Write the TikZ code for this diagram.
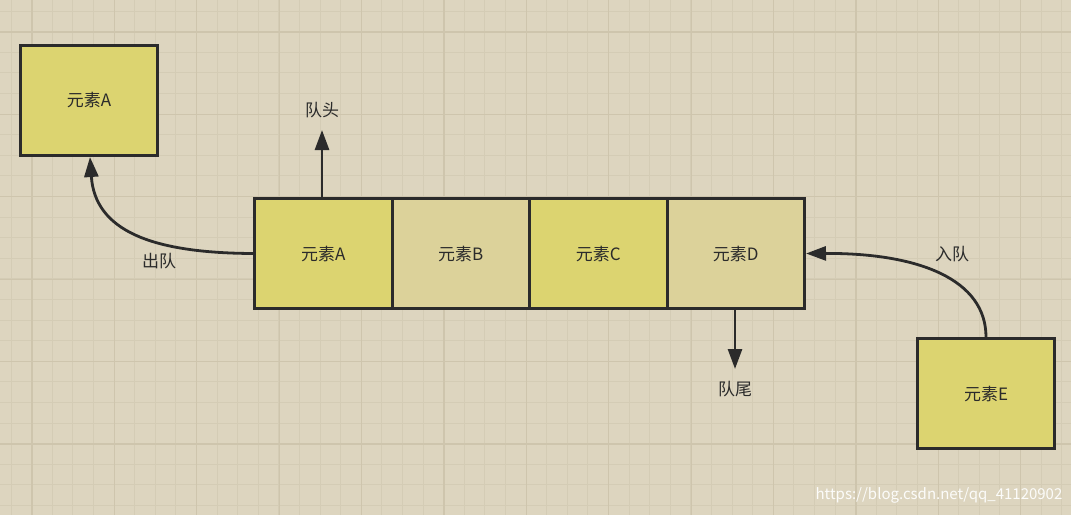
\documentclass[tikz,border=0pt]{standalone}
\usepackage{fontspec}
\setmainfont{Noto Sans CJK SC}
\usetikzlibrary{arrows.meta}
\definecolor{bg}{HTML}{DDD5BF}
\definecolor{gridc}{HTML}{D4CCB5}
\definecolor{majc}{HTML}{CEC5AD}
\definecolor{yel}{HTML}{DCD470}
\definecolor{lyel}{HTML}{DCD29A}
\definecolor{ink}{HTML}{2B2B2B}
\tikzset{
 box/.style={draw=ink,line width=3pt,minimum width=137pt,minimum height=110pt,inner sep=0pt,font=\fontsize{17}{20}\selectfont,text=ink},
 lbl/.style={font=\fontsize{17}{20}\selectfont,text=ink},
 conn/.style={draw=ink,line width=2.8pt,-{Triangle[length=20pt,width=14pt]}},
}
\begin{document}
\begin{tikzpicture}[x=1pt,y=-1pt]
\fill[bg] (0,0) rectangle (1071,515);
\useasboundingbox (0,0) rectangle (1071,515);
\foreach \i in {0,...,52} {\draw[gridc,line width=1pt] (11+20.6*\i,0) -- (11+20.6*\i,515);}
\foreach \i in {0,...,25} {\draw[gridc,line width=1pt] (0,11+20.6*\i) -- (1071,11+20.6*\i);}
\foreach \i in {0,...,13} {\draw[majc,line width=1.3pt] (32+82.4*\i,0) -- (32+82.4*\i,515);}
\foreach \i in {0,...,6} {\draw[majc,line width=1.3pt] (0,32+82.4*\i) -- (1071,32+82.4*\i);}
\node[box,fill=yel,anchor=north west] (ea) at (19,44) {元素A};
\node[box,fill=yel,anchor=north west,minimum width=137.5pt] (qa) at (253,197) {元素A};
\node[box,fill=lyel,anchor=north west,minimum width=137.5pt] (qb) at (390.5,197) {元素B};
\node[box,fill=yel,anchor=north west,minimum width=137.5pt] (qc) at (528,197) {元素C};
\node[box,fill=lyel,anchor=north west,minimum width=137.5pt] (qd) at (665.5,197) {元素D};
\node[box,fill=yel,anchor=north west] (ee) at (916,337) {元素E};
\node[lbl] (head) at (322,110) {队头};
\node[lbl] (tail) at (735,389) {队尾};
\node[lbl] (out) at (159,261) {出队};
\node[lbl] (in) at (952,254) {入队};
\node[font=\fontsize{15}{18}\selectfont,text=white!92!bg] (wm) at (939,495) {https://blog.csdn.net/qq\_41120902};
\coordinate (h0) at (322,197); \coordinate (h1) at (322,130);
\coordinate (t0) at (735,308); \coordinate (t1) at (735,369);
\draw[conn] (h0) -- (h1);
\draw[conn] (t0) -- (t1);
\draw[conn] (qa.west) .. controls (150,253) and (95,230) .. (ea.south-|90,0);
\draw[conn] (ee.north-|986,0) .. controls (986,280) and (920,253) .. (qd.east);
\end{tikzpicture}
\end{document}
